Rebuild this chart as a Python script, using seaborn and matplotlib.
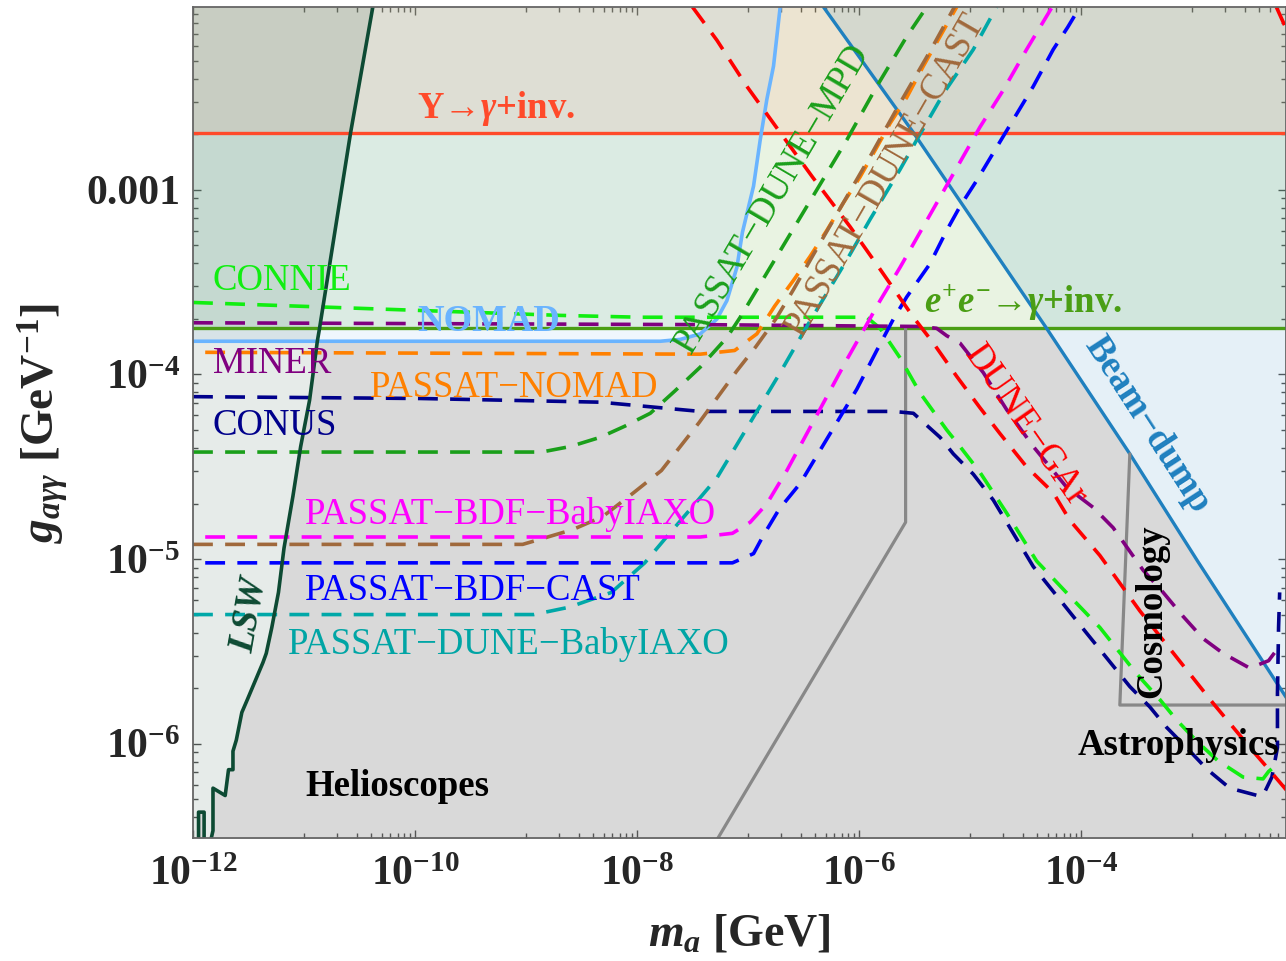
import numpy as np
import matplotlib
matplotlib.use("Agg")
import matplotlib.pyplot as plt
from matplotlib.patches import Polygon
from matplotlib.ticker import FixedLocator, LogLocator, NullFormatter
import seaborn as sns

# ---------------- data (log10 of m_a [GeV], log10 of g [GeV^-1]) ----------------
UPS_LOG_G = -2.69          # Upsilon -> gamma + inv.
EE_LOG_G = -3.75           # e+e- -> gamma + inv.

NOMAD_LX = [-12.00, -7.79, -7.61, -7.43, -7.28, -7.19, -7.10, -7.05, -6.95, -6.89, -6.83, -6.77, -6.71]
NOMAD_LY = [-3.82, -3.82, -3.81, -3.78, -3.70, -3.60, -3.42, -3.23, -2.98, -2.73, -2.51, -2.33, -2.01]

BD_LX = [-6.32, -5.51, -4.31, -3.56, -2.95, -2.15]
BD_LY = [-2.01, -2.69, -3.75, -4.43, -5.01, -5.75]

LSW_LX = [-10.38, -10.58, -10.86, -10.88, -10.95, -11.03, -11.10, -11.18, -11.23, -11.29, -11.34, -11.37,
          -11.51, -11.56, -11.61, -11.64, -11.64, -11.68, -11.71, -11.82, -11.82, -11.85, -11.90, -11.90,
          -11.95, -11.95]
LSW_LY = [-2.01, -2.69, -3.75, -3.82, -4.14, -4.39, -4.66, -4.94, -5.18, -5.37, -5.51, -5.56,
          -5.76, -5.83, -5.98, -6.04, -6.14, -6.14, -6.28, -6.24, -6.47, -6.55, -6.55, -6.37,
          -6.37, -6.55]

ASTRO_LX = [-7.28, -5.58, -5.58]
ASTRO_LY = [-6.52, -4.80, -3.75]

COSMO_LX = [-2.15, -3.65, -3.56]
COSMO_LY = [-5.79, -5.79, -4.43]

CONNIE_LX = [-12.00, -8.69, -7.97, -5.93, -5.81, -5.63, -5.45, -5.21, -5.09, -4.91, -4.67, -4.40, -4.07,
             -3.83, -3.50, -3.29, -3.14, -2.95, -2.77, -2.54, -2.36, -2.31, -2.27]
CONNIE_LY = [-3.61, -3.68, -3.69, -3.69, -3.75, -3.91, -4.10, -4.30, -4.39, -4.53, -4.75, -5.01, -5.22,
             -5.37, -5.62, -5.76, -5.87, -5.99, -6.09, -6.18, -6.19, -6.15, -6.13]

MINER_LX = [-12.00, -7.43, -5.45, -5.30, -5.21, -5.09, -4.88, -4.67, -4.43, -4.13, -3.89, -3.71, -3.44,
            -3.26, -3.08, -2.90, -2.72, -2.48, -2.31, -2.21]
MINER_LY = [-3.72, -3.73, -3.74, -3.75, -3.79, -3.83, -3.99, -4.19, -4.39, -4.61, -4.72, -4.83, -5.06,
            -5.18, -5.31, -5.43, -5.51, -5.59, -5.55, -5.47]

CONUS_LX = [-12.00, -9.95, -8.33, -7.43, -5.69, -5.51, -5.27, -5.15, -4.97, -4.79, -4.61, -4.43, -4.19,
            -3.95, -3.56, -3.38, -3.23, -3.05, -2.86, -2.66, -2.41, -2.36, -2.28, -2.23, -2.23, -2.22, -2.21]
CONUS_LY = [-4.12, -4.13, -4.15, -4.20, -4.20, -4.21, -4.34, -4.43, -4.54, -4.68, -4.86, -5.04, -5.22,
            -5.40, -5.69, -5.80, -5.91, -6.02, -6.14, -6.24, -6.28, -6.28, -6.18, -6.02, -5.73, -5.37, -5.18]

PNOMAD_LX = [-11.89, -7.43, -7.12, -6.92, -6.76, -6.59, -6.44, -6.29, -6.14, -5.99, -5.84, -5.72, -5.57,
             -5.42, -5.27, -5.12]
PNOMAD_LY = [-3.88, -3.89, -3.87, -3.78, -3.63, -3.49, -3.36, -3.22, -3.07, -2.93, -2.77, -2.64, -2.50,
             -2.33, -2.17, -2.01]

DCAST_LX = [-12.00, -9.03, -8.86, -8.58, -8.31, -8.03, -7.78, -7.61, -7.44, -7.27, -7.10, -6.93, -6.75,
            -6.59, -6.41, -6.17, -5.90, -5.63, -5.36, -5.14]
DCAST_LY = [-4.92, -4.92, -4.89, -4.84, -4.77, -4.64, -4.52, -4.39, -4.26, -4.12, -3.98, -3.85, -3.70,
            -3.54, -3.35, -3.10, -2.82, -2.53, -2.25, -2.01]

MPD_LX = [-12.00, -8.86, -8.60, -8.33, -8.11, -7.88, -7.66, -7.43, -7.19, -7.07, -6.92, -6.65, -6.38,
          -6.11, -5.84, -5.57, -5.39]
MPD_LY = [-4.42, -4.42, -4.39, -4.34, -4.28, -4.21, -4.09, -3.96, -3.80, -3.69, -3.54, -3.27, -3.00,
          -2.73, -2.44, -2.17, -2.01]

DBABY_LX = [-12.00, -8.93, -8.61, -8.23, -7.93, -7.72, -7.52, -7.28, -6.98, -6.71, -6.47, -6.11, -5.90,
            -5.63, -5.48, -5.23, -4.97, -4.76]
DBABY_LY = [-5.30, -5.30, -5.26, -5.18, -5.02, -4.87, -4.73, -4.56, -4.26, -3.99, -3.74, -3.38, -3.16,
            -2.89, -2.73, -2.47, -2.24, -2.01]

BBABY_LX = [-11.89, -7.43, -7.14, -6.98, -6.83, -6.65, -6.47, -6.29, -6.11, -5.95, -5.81, -5.63, -5.45,
            -5.27, -5.09, -4.91, -4.70, -4.49, -4.26]
BBABY_LY = [-4.88, -4.88, -4.86, -4.80, -4.70, -4.52, -4.32, -4.12, -3.92, -3.75, -3.60, -3.42, -3.23,
            -3.04, -2.85, -2.66, -2.46, -2.24, -2.01]

BCAST_LX = [-11.89, -7.14, -6.95, -6.86, -6.72, -6.53, -6.35, -6.17, -6.02, -5.84, -5.69, -5.57, -5.36,
            -5.21, -5.09, -4.94, -4.79, -4.61, -4.43, -4.25, -4.12, -4.01]
BCAST_LY = [-5.02, -5.02, -4.97, -4.87, -4.73, -4.59, -4.41, -4.23, -4.08, -3.87, -3.70, -3.58, -3.40,
            -3.22, -3.09, -2.95, -2.80, -2.62, -2.44, -2.24, -2.12, -2.01]

GAR_LX = [-7.50, -7.28, -7.01, -6.71, -6.42, -6.08, -5.81, -5.51, -5.33, -5.12, -4.91, -4.73, -4.49,
          -4.25, -4.10, -3.83, -3.47, -3.14, -2.81, -2.45, -2.32, -2.15]
GAR_LY = [-2.01, -2.19, -2.44, -2.69, -2.93, -3.20, -3.43, -3.69, -3.83, -4.01, -4.18, -4.32, -4.50,
          -4.64, -4.79, -4.98, -5.28, -5.53, -5.78, -6.04, -6.13, -6.25]
GAR_UP_LX = [-2.24, -2.15]
GAR_UP_LY = [-2.01, -2.13]

XTICK_EXP = [-12, -10, -8, -6, -4]
YTICK_VALS = [1e-6, 1e-5, 1e-4, 1e-3]
YTICK_LABELS = [r"$10^{-6}$", r"$10^{-5}$", r"$10^{-4}$", "0.001"]

# ---------------- style ----------------
sns.set_style("ticks")
plt.rcParams["font.family"] = ["Liberation Serif", "DejaVu Serif"]
plt.rcParams["mathtext.fontset"] = "custom"
plt.rcParams["mathtext.rm"] = "Liberation Serif:bold"
plt.rcParams["mathtext.it"] = "Liberation Serif:bold:italic"
plt.rcParams["mathtext.bf"] = "Liberation Serif:bold"

W, H = 1286, 961
fig = plt.figure(figsize=(W / 100, H / 100), dpi=100)
ax = fig.add_axes([193 / W, 1 - 838 / H, (1286 - 193) / W, (838 - 7) / H])
ax.set_xscale("log")
ax.set_yscale("log")
XMIN, XMAX = 10 ** -12.0, 10 ** -2.153
YMIN, YMAX = 10 ** -6.51, 10 ** -2.01
ax.set_xlim(XMIN, XMAX)
ax.set_ylim(YMIN, YMAX)

p = lambda a: 10.0 ** np.asarray(a, dtype=float)

# ---------------- filled regions ----------------
grid = np.linspace(np.log10(XMIN), np.log10(XMAX), 4000)
top = np.minimum.reduce([
    np.full_like(grid, EE_LOG_G),
    np.interp(grid, NOMAD_LX, NOMAD_LY, right=np.inf),
    np.interp(grid, BD_LX, BD_LY, left=np.inf),
])
gray = ax.fill_between(p(grid), YMIN, p(top), color="#d9d9d9", lw=0, zorder=0.5)
clip_x = np.r_[p(LSW_LX[0]), p(LSW_LX), p(LSW_LX[-1]), 1.0, 1.0]
clip_y = np.r_[YMAX * 10, p(LSW_LY), YMIN / 10, YMIN / 10, YMAX * 10]
clip_poly = Polygon(np.column_stack([clip_x, clip_y]), closed=True, transform=ax.transData)
gray.set_clip_path(clip_poly)
gray.set_clip_box(ax.bbox)

ax.axhspan(p(EE_LOG_G), YMAX, color=(80 / 255, 160 / 255, 20 / 255), alpha=0.12, lw=0, zorder=0.6)
ax.axhspan(p(UPS_LOG_G), YMAX, color=(1.0, 0.55, 0.43), alpha=0.14, lw=0, zorder=0.7)
ax.fill_between(p(NOMAD_LX), p(NOMAD_LY), YMAX, color=(100 / 255, 170 / 255, 240 / 255),
                alpha=0.10, lw=0, zorder=0.8)
ax.fill_between(p(BD_LX), p(BD_LY), YMAX, color=(30 / 255, 130 / 255, 190 / 255),
                alpha=0.115, lw=0, zorder=0.8)
lsw_fx = np.r_[p(LSW_LX[0]), p(LSW_LX), XMIN, XMIN]
lsw_fy = np.r_[YMAX, p(LSW_LY), YMIN, YMAX]
lsw_fill = ax.fill(lsw_fx, lsw_fy, color=(20 / 255, 70 / 255, 50 / 255), alpha=0.106, lw=0, zorder=0.9)

# ---------------- lines ----------------
DASH = (0, (5.5, 3.4))


def line(lx, ly, color, ls="-", lw=2.3, z=3):
    sns.lineplot(x=p(lx), y=p(ly), sort=False, estimator=None, ax=ax, color=color,
                 linestyle=ls, linewidth=lw, zorder=z)


line([-12.5, -1.5], [UPS_LOG_G, UPS_LOG_G], "#ff4a2a", lw=2.4)
line([-12.5, -1.5], [EE_LOG_G, EE_LOG_G], "#4a9e14", lw=2.4)
line(NOMAD_LX, NOMAD_LY, "#6ab4ff", lw=2.6)
line(BD_LX, BD_LY, "#1f80bf", lw=2.4)
line(ASTRO_LX, ASTRO_LY, "#888888", lw=2.3)
line(COSMO_LX, COSMO_LY, "#888888", lw=2.3)

line(CONNIE_LX, CONNIE_LY, "#11ee11", DASH, 2.6, 4)
line(MINER_LX, MINER_LY, "#800080", DASH, 2.6, 4)
line(CONUS_LX, CONUS_LY, "#00008b", DASH, 2.6, 4)
line(PNOMAD_LX, PNOMAD_LY, "#ff8000", DASH, 2.6, 4)
line(MPD_LX, MPD_LY, "#1a9f1a", DASH, 2.6, 4)
line(DCAST_LX, DCAST_LY, "#a0693c", DASH, 2.6, 4)
line(DBABY_LX, DBABY_LY, "#00a8a8", DASH, 2.6, 4)
line(BBABY_LX, BBABY_LY, "#ff00ff", DASH, 2.6, 4)
line(BCAST_LX, BCAST_LY, "#0000ff", DASH, 2.6, 4)
line(GAR_LX, GAR_LY, "#ff0000", DASH, 2.6, 4)
line(GAR_UP_LX, GAR_UP_LY, "#ff0000", DASH, 2.6, 4)
line(LSW_LX, LSW_LY, "#0d4a33", lw=2.6, z=5)

# ---------------- labels ----------------
FS = 26.5


def lab(lx, ly, s, color, ha="left", rot=0, weight="normal", size=FS, style="normal"):
    ax.text(p(lx), p(ly), s, color=color, ha=ha, va="center", rotation=rot,
            rotation_mode="anchor", fontsize=size, fontweight=weight, fontstyle=style, zorder=6)


lab(-9.98, -2.56, r"Υ→$\gamma$+inv.", "#ff4a2a", weight="bold")
lab(-5.41, -3.61, r"$e^{+}e^{-}$→$\gamma$+inv.", "#4a9e14", weight="bold")
lab(-11.82, -3.49, "CONNIE", "#11ee11")
lab(-9.98, -3.715, "NOMAD", "#6ab4ff", weight="bold")
lab(-11.82, -3.94, "MINER", "#800080")
lab(-10.41, -4.07, "PASSAT−NOMAD", "#ff8000")
lab(-11.82, -4.28, "CONUS", "#00008b")
lab(-10.99, -4.76, "PASSAT−BDF−BabyIAXO", "#ff00ff")
lab(-10.99, -5.17, "PASSAT−BDF−CAST", "#0000ff")
lab(-11.14, -5.46, "PASSAT−DUNE−BabyIAXO", "#00a5a5")
lab(-10.99, -6.23, "Helioscopes", "black", weight="bold")
lab(-3.12, -6.01, "Astrophysics", "black", ha="center", weight="bold")
lab(-3.36, -5.28, "Cosmology", "black", ha="center", rot=90, weight="bold")
lab(-11.50, -5.30, "LSW", "#0d4a33", ha="center", rot=80, weight="bold", style="italic")
lab(-6.78, -3.045, "PASSAT−DUNE−MPD", "#1a9f1a", ha="center", rot=59.5)
lab(-5.76, -2.92, "PASSAT−DUNE−CAST", "#a0693c", ha="center", rot=60)
lab(-4.50, -4.28, "DUNE−GAr", "#ff0000", ha="center", rot=-55)
lab(-3.40, -4.27, "Beam−dump", "#1f80bf", ha="center", rot=-57, weight="bold")

# ---------------- axes, ticks ----------------
ax.set_xticks([10.0 ** e for e in XTICK_EXP], labels=[rf"$10^{{{e}}}$" for e in XTICK_EXP])
ax.xaxis.set_minor_locator(FixedLocator([k * 10.0 ** (n + 1) for n in range(-12, -1, 2) for k in range(1, 10)]))
ax.xaxis.set_minor_formatter(NullFormatter())
ax.set_yticks(YTICK_VALS, labels=YTICK_LABELS)
ax.yaxis.set_minor_locator(LogLocator(base=10, subs=np.arange(2, 10)))
ax.yaxis.set_minor_formatter(NullFormatter())
for t in ax.get_xticklabels() + ax.get_yticklabels():
    t.set_fontsize(30)
    t.set_fontweight("bold")
ax.tick_params(which="both", direction="in", top=True, right=True, color="#555555", width=1.0)
ax.tick_params(which="major", length=6, pad=9)
ax.tick_params(which="minor", length=3.5)
ax.tick_params(axis="x", which="major", pad=13)
for s in ax.spines.values():
    s.set_color("#666666")
    s.set_linewidth(1.3)
    s.set_zorder(7)

ax.set_xlabel(r"$m_a$ [GeV]", fontsize=33, fontweight="bold", labelpad=14)
ax.set_ylabel(r"$g_{a\gamma\gamma}$ [GeV$^{-1}$]", fontsize=34, fontweight="bold", labelpad=12)

fig.savefig("out.png", dpi=100)
